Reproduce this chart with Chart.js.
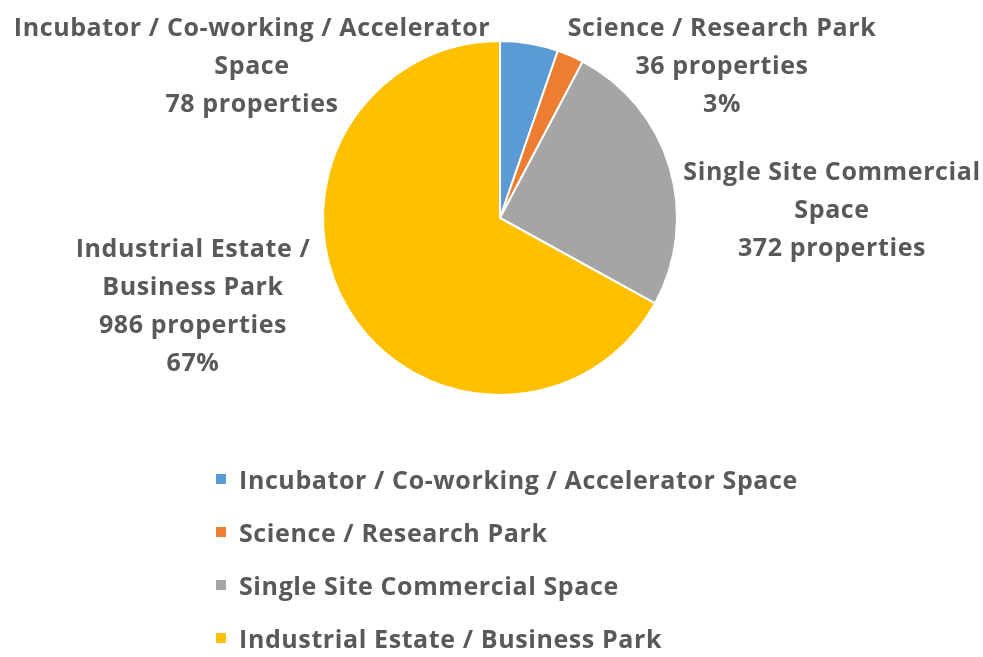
<!DOCTYPE html>
<html><head><meta charset="utf-8">
<script src="https://cdn.jsdelivr.net/npm/chart.js@4.4.0/dist/chart.umd.min.js"></script>
<style>html,body{margin:0;padding:0;background:#fff}#wrap{width:983px;height:657px}</style>
</head><body><div id="wrap"><canvas id="c" width="983" height="657"></canvas></div>
<script>
const categories = ["Incubator / Co-working / Accelerator Space", "Science / Research Park", "Single Site Commercial Space", "Industrial Estate / Business Park"];
const labelLines = [["Incubator / Co-working / Accelerator", "Space"], ["Science / Research Park"], ["Single Site Commercial", "Space"], ["Industrial Estate /", "Business Park"]];
const properties = [78, 36, 372, 986];
const percentLabels = ["", "3%", "", "67%"];
const colors = ["#5B9BD5", "#ED7D31", "#A5A5A5", "#FFC000"];

const FONT = "bold 25px 'Open Sans', sans-serif";
const TEXT = "#595959";

const annot = {
  id: 'annot',
  afterDraw(chart) {
    const ctx = chart.ctx;
    const anchors = [[252, 29], [722, 29], [832, 173], [193, 250]];
    const step = 38;
    ctx.save();
    ctx.font = FONT;
    ctx.letterSpacing = '0.6px';
    ctx.fillStyle = TEXT;
    ctx.textAlign = 'center';
    ctx.textBaseline = 'middle';
    chart.data.labels.forEach((_, i) => {
      const lines = labelLines[i].slice();
      lines.push(chart.data.datasets[0].data[i] + " properties");
      if (percentLabels[i]) lines.push(percentLabels[i]);
      lines.forEach((t, k) => ctx.fillText(t, anchors[i][0], anchors[i][1] + k * step));
    });
    // legend
    const lx = 216, ly = 482, lstep = 53;
    ctx.textAlign = 'left';
    chart.data.labels.forEach((lab, i) => {
      const y = ly + i * lstep;
      ctx.fillStyle = chart.data.datasets[0].backgroundColor[i];
      ctx.fillRect(lx, y - 8, 10, 10);
      ctx.fillStyle = TEXT;
      ctx.fillText(lab, lx + 23, y);
    });
    ctx.restore();
  }
};

new Chart(document.getElementById('c'), {
  type: 'pie',
  data: {
    labels: categories,
    datasets: [{ data: properties, backgroundColor: colors, borderColor: '#ffffff', borderWidth: 2 }]
  },
  options: {
    responsive: false,
    animation: false,
    devicePixelRatio: 1,
    layout: { padding: { left: 322, right: 305, top: 40, bottom: 261 } },
    plugins: { legend: { display: false }, tooltip: { enabled: false } }
  },
  plugins: [annot]
});
</script></body></html>
